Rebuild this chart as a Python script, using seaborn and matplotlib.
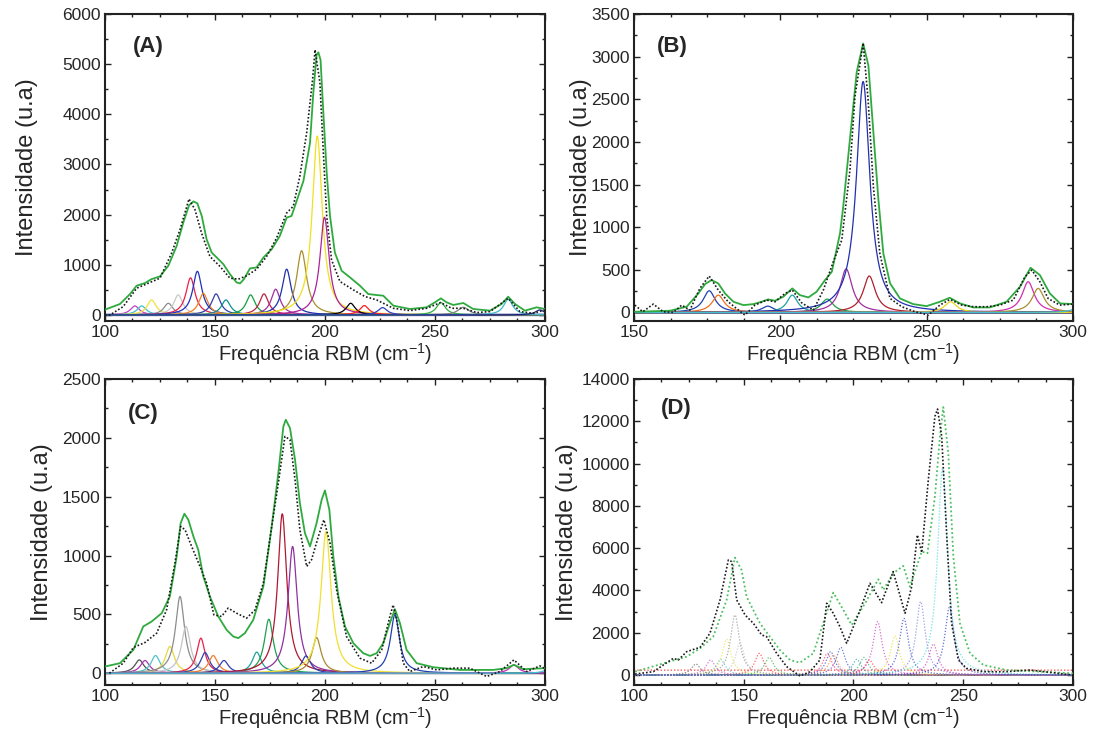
import numpy as np
import matplotlib
matplotlib.use("Agg")
import matplotlib.pyplot as plt
import seaborn as sns
from matplotlib.ticker import MultipleLocator

sns.set_style("ticks")
plt.rcParams["font.family"] = ["Liberation Sans", "DejaVu Sans"]

# ---------------- Panel A ----------------
A_centers = [113.6, 116.7, 121.2, 128.8, 133.3, 138.9, 142.0, 144.7, 150.5, 155.0, 166.2, 172.3,
             177.6, 182.6, 189.4, 196.5, 199.8, 211.7, 217.9, 226.2, 252.7, 262.9, 283.3, 297.7]
A_heights = [180, 180, 300, 233, 400, 740, 870, 430, 420, 300, 400, 420,
             513, 913, 1280, 3567, 1947, 233, 187, 147, 247, 153, 313, 100]
A_fwhm = [5, 5, 5, 5, 5, 5, 5, 5, 5, 5, 5, 5,
          5, 5, 5.5, 5.5, 5, 5, 5, 5, 5, 6, 5, 5]
A_fit_x = [100, 106.8, 111.4, 114.4, 118.2, 121.2, 125, 128.8, 132.6, 135.6, 138.2, 140.2, 142, 144,
           146.2, 148.5, 150.8, 153.8, 156.8, 159.8, 161.4, 163.2, 165.9, 168.9, 172, 175.8, 179.5,
           182.6, 184.8, 187.9, 190.2, 193.2, 194.7, 196.2, 197, 198, 199.2, 200.8, 202.3, 204.5,
           207.6, 211.4, 215.9, 219.7, 223.5, 226.5, 231.1, 238.6, 246.2, 250, 252.7, 255.3, 258.3,
           262.9, 267.4, 275, 280.3, 283.3, 286.4, 290.9, 296.2, 300]
A_fit_y = [106, 218, 417, 583, 636, 715, 768, 980, 1377, 1840, 2185, 2264, 2224, 1973,
           1509, 1245, 1145, 1013, 814, 649, 629, 715, 927, 947, 1145, 1311, 1576,
           1940, 1973, 2370, 2668, 3429, 4422, 5183, 5236, 5084, 4091, 2833, 1973, 1245,
           880, 748, 583, 417, 397, 384, 185, 119, 152, 252, 331, 252, 199,
           238, 119, 86, 218, 364, 218, 86, 152, 119]
A_exp_x = [100, 102.3, 108.3, 114.4, 119.7, 125, 130.3, 134.1, 138.2, 140.9, 143.9, 147.7, 152.3,
           156.8, 160.6, 164.4, 169, 173.5, 178, 182.6, 185.6, 188.6, 191.7, 194.4, 195.5, 197.7,
           199.2, 200.8, 203, 206.8, 212.9, 218.2, 223.5, 231.1, 238.6, 246.2, 252.6, 257.6, 262.9,
           269, 275, 283.3, 288.6, 294.7, 300]
A_exp_y = [0, 0, 167, 533, 633, 733, 1233, 1700, 2313, 2100, 1633, 1167, 967,
           733, 713, 780, 913, 1167, 1533, 2033, 2167, 2767, 3633, 4700, 5287, 4633,
           3300, 1967, 1100, 667, 500, 367, 300, 133, 87, 133, 247, 133, 133,
           47, 67, 333, 67, 33, 100]

# ---------------- Panel B ----------------
B_centers = [175.7, 178.8, 195.7, 204.1, 216.0, 222.5, 228.3, 230.4, 258.2, 284.7, 288.1, 302.0]
B_heights = [254, 203, 74, 203, 157, 510, 2708, 427, 125, 360, 282, 60]
B_fwhm = [5, 5, 5, 4.5, 5, 5, 5.5, 5, 5, 5, 5, 5]
B_fit_x = [150.3, 162.3, 168, 172, 174.3, 176.5, 178.8, 181.1, 184, 187.4, 190.8, 193.6, 195.9,
           198.2, 201, 204.1, 206.7, 209.6, 212.4, 215.3, 217.6, 220.4, 221.5, 223.8, 226.1, 228.3,
           230.1, 231.8, 233.5, 235.2, 237.5, 240.9, 245.4, 250, 254.5, 257.9, 261.4, 265.9, 271.6,
           277.3, 281.9, 285.5, 288.7, 292.1, 295.6, 300]
B_fit_y = [8, 20, 67, 223, 333, 380, 340, 223, 125, 86, 98, 125, 153,
           137, 184, 282, 203, 176, 243, 380, 477, 927, 1240, 2035, 2818, 3154,
           2896, 2113, 1330, 693, 341, 164, 98, 74, 125, 172, 106, 59, 59,
           125, 301, 524, 438, 223, 106, 98]
B_exp_x = [150.3, 153, 156.6, 160, 163.4, 166.3, 169.1, 172.5, 175.7, 178.8, 182.2, 185, 187.9,
           191.3, 195.3, 198.2, 201.6, 204.1, 207.3, 211.3, 214.7, 218.1, 221, 223.8, 225.5, 228.3,
           230, 231.8, 234, 237.5, 241.5, 246.1, 250.6, 254.5, 258, 262, 266, 270.5, 275, 279.6,
           283.6, 285.9, 288.7, 291.5, 295.5, 300]
B_exp_y = [86, 8, 98, 8, 0, 86, 27, 282, 427, 262, 125, 47, -31,
           86, 145, 125, 223, 262, 113, 27, 262, 595, 849, 1671, 2532, 3158,
           2493, 1475, 693, 164, 67, 8, -31, 86, 153, 86, 67, 67, 86, 145,
           419, 497, 360, 164, 86, 98]

# ---------------- Panel C ----------------
C_centers = [115.6, 118.2, 123.0, 129.5, 134.1, 136.8, 143.6, 145.5, 149.2, 154.1, 169.0, 174.5,
             180.6, 185.3, 191.4, 196.2, 200.5, 231.8, 285.9, 302.0]
C_heights = [113, 108, 150, 227, 652, 397, 298, 176, 150, 108, 179, 459,
             1355, 1077, 147, 303, 1204, 496, 71, 40]
C_fwhm = [5, 5, 5, 5, 5, 5, 4.5, 5, 5, 5, 5, 5,
          5, 5, 5, 5, 5.5, 5, 5, 5]
C_fit_x = [100, 106.8, 112.9, 117.4, 121.2, 125.8, 129.5, 132.6, 134.4, 136.1, 137.9, 140.2, 142.4,
           144.7, 147.7, 151.5, 155.3, 158.3, 160.6, 163.6, 167.4, 172, 175.8, 178.8, 181.1, 182.2,
           184.1, 186.4, 188.6, 190.9, 193.2, 196.2, 198.5, 200, 202, 203.8, 206.1, 209.1, 212.9,
           217.4, 220.5, 223.5, 226.5, 229.5, 231.8, 234.1, 237.1, 241.7, 249.2, 261.4, 276.5,
           282.6, 285.9, 290.2, 300]
C_fit_y = [57, 85, 198, 397, 439, 510, 652, 992, 1275, 1355, 1304, 1162, 1049,
           822, 652, 482, 368, 312, 298, 340, 453, 737, 1247, 1700, 2097, 2154,
           2083, 1814, 1445, 1190, 1077, 1275, 1474, 1553, 1389, 992, 652, 397, 255,
           170, 147, 170, 255, 425, 544, 425, 198, 85, 51, 28, 28,
           43, 71, 34, 43]
C_exp_x = [102, 108.3, 112.9, 118.2, 123.5, 128, 131.8, 134.4, 136.4, 139.4, 143.2, 146.2, 149.5,
           153, 156, 159.8, 164.4, 168.2, 172, 175.8, 178.8, 181.8, 184.1, 186.4, 188.6, 191.7,
           193.9, 197, 199.5, 202.3, 205.3, 209.8, 215.9, 221.2, 225.8, 229.5, 231, 232.9, 235.6,
           238.6, 244.7, 250.8, 258.3, 265.9, 273.5, 279.5, 285.9, 291.7, 297.7, 300]
C_exp_y = [0, 85, 218, 261, 340, 538, 935, 1247, 1219, 1077, 907, 765, 496,
           482, 553, 510, 468, 538, 765, 1247, 1615, 2012, 1984, 1644, 1219, 907,
           964, 1162, 1304, 1105, 708, 312, 128, 85, 198, 482, 581, 425, 85,
           14, 57, 28, 43, 43, -28, 14, 113, 14, 62, 40]

# ---------------- Panel D ----------------
D_centers = [128.2, 134.9, 139.5, 142.2, 146.0, 148.3, 157.1, 161.6, 188.1, 189.6, 190.9, 194.2,
             201.5, 204.8, 207.2, 211.0, 218.9, 223.0, 230.6, 236.4, 240.6, 243.7]
D_heights = [521, 710, 742, 1689, 2840, 1500, 1026, 836, 1026, 1105, 947, 1310,
             742, 836, 710, 2525, 1846, 2683, 3472, 1468, 9784, 3204]
D_fwhm = [5, 5, 5, 5, 5, 5, 5, 5, 5, 5, 5, 5,
          5, 5, 5, 5, 5, 5, 5, 5, 5.5, 5]
D_offset = 230
D_fit_x = [100.5, 113.4, 124, 130.1, 136.1, 142.2, 146, 149, 151.3, 157.4, 161.9, 166.5, 171.1,
           175.6, 181.7, 186.2, 190.8, 195.4, 199.2, 205.3, 211.3, 213.6, 218.1, 222.7, 225.7,
           231.1, 233.7, 237.1, 239.4, 240.9, 243.2, 245.5, 248.5, 253.1, 259.2, 269.8, 285, 300]
D_fit_y = [158, 552, 868, 1262, 1815, 3551, 5555, 4971, 3708, 2446, 1815, 1184, 710,
           584, 1026, 2446, 3898, 3077, 2367, 3393, 4529, 4024, 4813, 5160, 4182,
           5839, 5760, 8442, 11283, 12671, 10494, 5602, 2446, 1026, 473, 237, 158, 79]
D_exp_x = [100.5, 108.8, 117.9, 120.2, 124, 130.1, 134.6, 139.2, 143, 144.5, 146.8, 150.6, 154.4,
           158.2, 160.4, 165, 169.6, 175.6, 180.2, 184.7, 187.8, 190.8, 193.8, 196.9, 203, 207.5,
           212.8, 218.1, 223.5, 226.5, 229.1, 231.1, 234.1, 237.1, 238.3, 240.2, 242.5, 244.7,
           247.8, 251.5, 259.2, 269.8, 280.4, 291, 300]
D_exp_y = [47, 158, 789, 710, 1105, 1310, 1973, 3551, 5444, 5365, 3551, 2840, 2446,
           1894, 1815, 1026, 395, -47, 158, 710, 3393, 2920, 2288, 1500, 3077, 4340,
           3424, 4892, 2920, 4182, 6628, 5791, 9232, 12230, 12577, 11283, 6549, 2446,
           710, 316, 158, 158, 237, 110, 0]

# ---------------- styles ----------------
A_colors = ["#c040c0", "#40c0d0", "#f0e040", "#8c8c8c", "#c8c8c8", "#e8204a", "#2030c0", "#f08020",
            "#3040a8", "#109090", "#10a040", "#c02040", "#a030a0", "#2030b0", "#a89030", "#f0e020",
            "#b0209a", "#000000", "#ff2020", "#3040c0", "#30b040", "#808080", "#40b8c8", "#202080"]
B_colors = ["#2040b0", "#f07020", "#2040b0", "#20a0a0", "#20a040", "#a030a0", "#2030b0", "#b02030",
            "#e8d820", "#d030b0", "#a89030", "#40c0d0"]
C_colors = ["#505050", "#b030b0", "#50c0c8", "#e8d840", "#8c8c8c", "#c4c4c4", "#e8204a", "#3040b0",
            "#f08030", "#3040b0", "#20a0a0", "#20a050", "#b01830", "#9030a0", "#3040b0", "#a88830",
            "#f0e030", "#2040b0", "#c030b0", "#40c0d0"]
D_colors = ["#606060", "#d050d0", "#40c8d8", "#f0e040", "#909090", "#c0c0c0", "#ff3030", "#30b040",
            "#ff3070", "#3050d0", "#f09030", "#4050c0", "#20a0a0", "#30b070", "#ff3030", "#d040c0",
            "#f0e020", "#3040c0", "#8080e0", "#d040b0", "#40d8d8", "#3040c0"]
FIT_GREEN = "#2eaa3e"


def lorentz(x, c, h, w):
    return h / (1.0 + (2.0 * (x - c) / w) ** 2)


fig = plt.figure(figsize=(10.98, 7.43), dpi=100)
positions = {
    "A": [0.0956, 0.568, 0.4007, 0.4132],
    "B": [0.5774, 0.568, 0.3998, 0.4132],
    "C": [0.0956, 0.0781, 0.4007, 0.4118],
    "D": [0.5774, 0.0781, 0.3998, 0.4118],
}
panels = {
    "A": dict(cen=A_centers, hei=A_heights, fw=A_fwhm, col=A_colors, fx=A_fit_x, fy=A_fit_y,
              ex=A_exp_x, ey=A_exp_y, xlim=(100, 300), ylim=(-120, 6000), ymaj=1000, base=["#202080", "#3040a0"],
              dotted=False, lab_x=0.064, lab_y=0.895, ylab_x=-0.152),
    "B": dict(cen=B_centers, hei=B_heights, fw=B_fwhm, col=B_colors, fx=B_fit_x, fy=B_fit_y,
              ex=B_exp_x, ey=B_exp_y, xlim=(150, 300), ylim=(-100, 3500), ymaj=500, base=["#5a5a8a", "#404080"],
              dotted=False, lab_x=0.052, lab_y=0.895, ylab_x=-0.095),
    "C": dict(cen=C_centers, hei=C_heights, fw=C_fwhm, col=C_colors, fx=C_fit_x, fy=C_fit_y,
              ex=C_exp_x, ey=C_exp_y, xlim=(100, 300), ylim=(-100, 2500), ymaj=500, base=["#808080"],
              dotted=False, lab_x=0.052, lab_y=0.886, ylab_x=-0.118),
    "D": dict(cen=D_centers, hei=D_heights, fw=D_fwhm, col=D_colors, fx=D_fit_x, fy=D_fit_y,
              ex=D_exp_x, ey=D_exp_y, xlim=(100, 300), ylim=(-470, 14000), ymaj=2000, base=["#404080", "#30a0a0"],
              dotted=True, lab_x=0.061, lab_y=0.905, ylab_x=-0.128),
}

for name, p in panels.items():
    ax = fig.add_axes(positions[name])
    grid = np.linspace(p["xlim"][0], p["xlim"][1], 1201)
    ls = (0, (1, 1.4)) if p["dotted"] else "-"
    alpha = 0.75 if p["dotted"] else 1.0
    # flat baselines
    for bc in p["base"]:
        sns.lineplot(x=grid, y=np.zeros_like(grid), ax=ax, color=bc, lw=1.6 if not p["dotted"] else 1.0,
                     linestyle=ls, estimator=None, sort=False, zorder=1)
    if name == "D":
        sns.lineplot(x=grid, y=np.full_like(grid, D_offset), ax=ax, color="#ff4040", lw=1.0,
                     linestyle=ls, estimator=None, sort=False, alpha=0.85, zorder=1)
    # fitted components
    for c, h, w, col in zip(p["cen"], p["hei"], p["fw"], p["col"]):
        sns.lineplot(x=grid, y=lorentz(grid, c, h, w), ax=ax, color=col, lw=0.9,
                     linestyle=ls, alpha=alpha, estimator=None, sort=False, zorder=2)
    # cumulative fit
    sns.lineplot(x=p["fx"], y=p["fy"], ax=ax, color="#4cc060" if p["dotted"] else FIT_GREEN,
                 lw=1.3, linestyle=ls, estimator=None, sort=False, zorder=3)
    # experimental spectrum
    sns.lineplot(x=p["ex"], y=p["ey"], ax=ax, color="#1a1a1a", lw=1.2,
                 linestyle=(0, (1, 1.2)), estimator=None, sort=False, zorder=4)

    ax.set_xlim(*p["xlim"])
    ax.set_ylim(*p["ylim"])
    ax.xaxis.set_major_locator(MultipleLocator(50))
    ax.xaxis.set_minor_locator(MultipleLocator(12.5))
    ax.yaxis.set_major_locator(MultipleLocator(p["ymaj"]))
    ax.yaxis.set_minor_locator(MultipleLocator(p["ymaj"] / 2))
    ax.tick_params(which="both", direction="in", top=True, right=True, width=1.0, color="#222222")
    ax.tick_params(which="major", length=4.5, labelsize=12.5, pad=3)
    ax.tick_params(which="minor", length=2.5)
    for s in ax.spines.values():
        s.set_linewidth(1.5)
        s.set_color("#222222")
    ax.set_xlabel(r"Frequência RBM (cm$^{\mathregular{-1}}$)", fontsize=14.5, labelpad=1)
    ax.set_ylabel("Intensidade (u.a)", fontsize=17)
    ax.yaxis.set_label_coords(p["ylab_x"], 0.5)
    ax.text(p["lab_x"], p["lab_y"], f"({name})", transform=ax.transAxes, fontsize=16,
            fontweight="bold", va="center", ha="left")

fig.savefig("out.png", dpi=100)
